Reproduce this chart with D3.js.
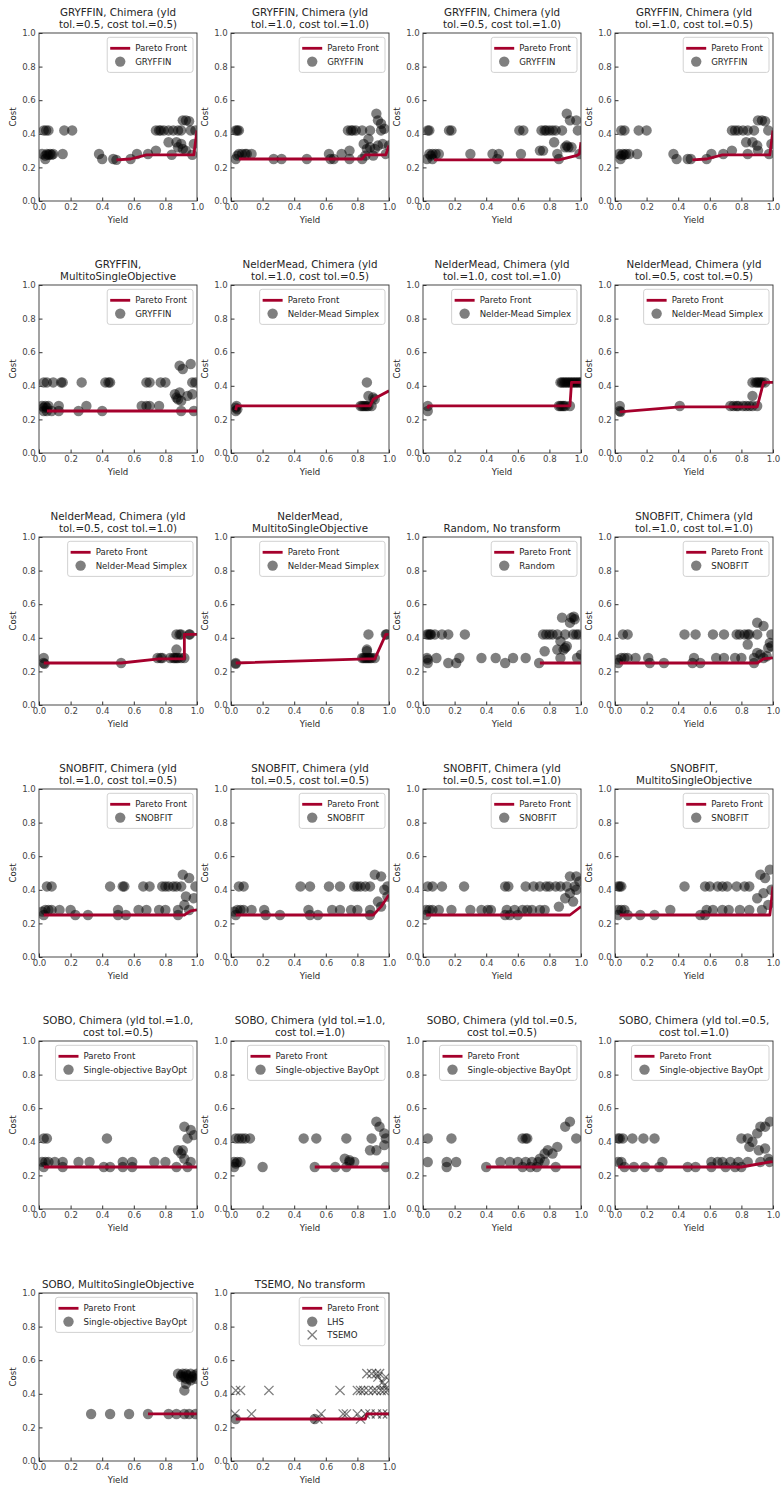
<!DOCTYPE html>
<html>
<head>
<meta charset="utf-8">
<script src="https://cdn.jsdelivr.net/npm/d3@7"></script>
<style>
  body { margin: 0; background: #fff; }
  svg { display: block; }
  text { font-family: "DejaVu Sans", sans-serif; }
</style>
</head>
<body>
<svg id="fig" width="781" height="1488"></svg>
<script>
// ---------- axis ticks ----------
const tickValues = [0, 0.2, 0.4, 0.6, 0.8, 1.0];
const tickLabels = ["0.0", "0.2", "0.4", "0.6", "0.8", "1.0"];

// ---------- panel titles (two lines where wrapped) ----------
const titles = [
  ["GRYFFIN, Chimera (yld", "tol.=0.5, cost tol.=0.5)"],
  ["GRYFFIN, Chimera (yld", "tol.=1.0, cost tol.=1.0)"],
  ["GRYFFIN, Chimera (yld", "tol.=0.5, cost tol.=1.0)"],
  ["GRYFFIN, Chimera (yld", "tol.=1.0, cost tol.=0.5)"],
  ["GRYFFIN,", "MultitoSingleObjective"],
  ["NelderMead, Chimera (yld", "tol.=1.0, cost tol.=0.5)"],
  ["NelderMead, Chimera (yld", "tol.=1.0, cost tol.=1.0)"],
  ["NelderMead, Chimera (yld", "tol.=0.5, cost tol.=0.5)"],
  ["NelderMead, Chimera (yld", "tol.=0.5, cost tol.=1.0)"],
  ["NelderMead,", "MultitoSingleObjective"],
  ["Random, No transform"],
  ["SNOBFIT, Chimera (yld", "tol.=1.0, cost tol.=1.0)"],
  ["SNOBFIT, Chimera (yld", "tol.=1.0, cost tol.=0.5)"],
  ["SNOBFIT, Chimera (yld", "tol.=0.5, cost tol.=0.5)"],
  ["SNOBFIT, Chimera (yld", "tol.=0.5, cost tol.=1.0)"],
  ["SNOBFIT,", "MultitoSingleObjective"],
  ["SOBO, Chimera (yld tol.=1.0,", "cost tol.=0.5)"],
  ["SOBO, Chimera (yld tol.=1.0,", "cost tol.=1.0)"],
  ["SOBO, Chimera (yld tol.=0.5,", "cost tol.=0.5)"],
  ["SOBO, Chimera (yld tol.=0.5,", "cost tol.=1.0)"],
  ["SOBO, MultitoSingleObjective"],
  ["TSEMO, No transform"]
];

// ---------- scatter legend labels ----------
const seriesLabels = [
  "GRYFFIN", "GRYFFIN", "GRYFFIN", "GRYFFIN", "GRYFFIN",
  "Nelder-Mead Simplex", "Nelder-Mead Simplex", "Nelder-Mead Simplex", "Nelder-Mead Simplex", "Nelder-Mead Simplex",
  "Random",
  "SNOBFIT", "SNOBFIT", "SNOBFIT", "SNOBFIT", "SNOBFIT",
  "Single-objective BayOpt", "Single-objective BayOpt", "Single-objective BayOpt", "Single-objective BayOpt", "Single-objective BayOpt",
  "LHS"
];

// ---------- experiments: [yield, cost] ----------
const gryffinY05C05 = [
  [0.03,0.42],[0.045,0.42],[0.06,0.42],[0.16,0.42],[0.21,0.42],
  [0.74,0.42],[0.76,0.42],[0.77,0.42],[0.79,0.42],[0.82,0.42],[0.85,0.42],[0.88,0.42],[0.9,0.42],[0.96,0.42],[0.99,0.42],
  [0.91,0.48],[0.93,0.48],[0.95,0.475],
  [0.82,0.35],[0.87,0.35],[0.9,0.34],[0.88,0.32],[0.91,0.31],[0.93,0.3],[0.98,0.34],
  [0.02,0.28],[0.04,0.27],[0.05,0.28],[0.06,0.275],[0.07,0.28],[0.08,0.275],[0.09,0.28],[0.15,0.28],[0.38,0.28],[0.62,0.28],[0.69,0.28],[0.84,0.275],[0.97,0.275],[0.74,0.3],
  [0.04,0.25],[0.4,0.25],[0.47,0.25],[0.49,0.245],[0.58,0.25]
];
const gryffinY10C10 = [
  [0.03,0.42],[0.04,0.42],[0.05,0.42],[0.74,0.42],[0.76,0.42],[0.77,0.42],[0.79,0.42],[0.83,0.42],[0.88,0.42],[0.95,0.42],
  [0.92,0.52],[0.93,0.48],[0.95,0.46],[0.97,0.43],
  [0.87,0.37],[0.84,0.34],[0.86,0.31],[0.88,0.32],[0.91,0.31],[0.93,0.33],[0.96,0.34],[1.0,0.33],
  [0.04,0.27],[0.05,0.28],[0.07,0.28],[0.09,0.28],[0.1,0.28],[0.13,0.28],[0.62,0.28],[0.7,0.28],[0.75,0.3],[0.98,0.28],
  [0.03,0.25],[0.27,0.25],[0.32,0.25],[0.48,0.25],[0.63,0.25],[0.65,0.25],[0.75,0.25],[0.83,0.25],[0.85,0.27],[0.9,0.27]
];
const gryffinY05C10 = [
  [0.03,0.42],[0.04,0.42],[0.165,0.42],[0.18,0.42],[0.61,0.42],[0.635,0.42],[0.75,0.42],[0.77,0.42],[0.78,0.42],[0.8,0.42],[0.82,0.42],[0.84,0.42],[0.88,0.42],[0.98,0.42],
  [0.91,0.52],[0.93,0.48],[0.97,0.48],
  [0.83,0.35],[0.9,0.32],[0.91,0.33],[0.92,0.32],[0.94,0.32],[0.74,0.3],[0.76,0.3],
  [0.04,0.28],[0.05,0.27],[0.06,0.28],[0.08,0.28],[0.1,0.28],[0.3,0.28],[0.44,0.28],[0.48,0.28],[0.62,0.28],[0.85,0.28],[0.99,0.28],
  [0.025,0.25],[0.06,0.25],[0.47,0.25],[0.86,0.25]
];
const gryffinY10C05 = [
  [0.04,0.42],[0.06,0.42],[0.15,0.42],[0.2,0.42],
  [0.74,0.42],[0.76,0.42],[0.78,0.42],[0.81,0.42],[0.84,0.42],[0.88,0.42],[0.97,0.42],
  [0.905,0.48],[0.93,0.48],[0.95,0.475],
  [0.83,0.35],[0.87,0.35],[0.9,0.33],[0.905,0.3],[0.99,0.34],
  [0.025,0.28],[0.04,0.27],[0.05,0.28],[0.06,0.275],[0.07,0.28],[0.09,0.28],[0.14,0.28],[0.37,0.28],[0.61,0.28],[0.685,0.28],[0.84,0.28],[0.975,0.28],[0.74,0.3],
  [0.035,0.25],[0.39,0.25],[0.46,0.25],[0.48,0.25],[0.58,0.25]
];
const gryffinMtso = [
  [0.03,0.42],[0.05,0.42],[0.09,0.42],[0.14,0.42],[0.15,0.42],[0.27,0.42],[0.42,0.42],[0.44,0.42],[0.45,0.42],[0.68,0.42],[0.7,0.42],[0.77,0.42],[0.8,0.42],[0.97,0.42],[0.99,0.42],
  [0.89,0.52],[0.91,0.5],[0.96,0.53],
  [0.86,0.35],[0.87,0.33],[0.88,0.32],[0.89,0.36],[0.9,0.31],[0.94,0.34],[0.97,0.35],
  [0.02,0.28],[0.03,0.27],[0.04,0.28],[0.05,0.27],[0.06,0.28],[0.125,0.28],[0.3,0.28],[0.65,0.28],[0.68,0.28],[0.7,0.28],[0.76,0.28],
  [0.03,0.25],[0.05,0.25],[0.08,0.25],[0.125,0.25],[0.25,0.25],[0.4,0.25],[0.9,0.25],[0.98,0.25]
];
const nelderY10C05 = [
  [0.03,0.25],[0.03,0.27],[0.035,0.28],[0.04,0.26],
  [0.82,0.28],[0.83,0.28],[0.84,0.28],[0.85,0.28],[0.86,0.28],[0.87,0.28],
  [0.86,0.42],[0.87,0.34],[0.89,0.28],[0.9,0.33],[0.91,0.32]
];
const nelderY10C10 = [
  [0.03,0.28],[0.03,0.25],
  [0.86,0.28],[0.87,0.28],[0.88,0.28],[0.89,0.28],[0.9,0.28],[0.93,0.28],
  [0.87,0.42],[0.88,0.42],[0.89,0.42],[0.9,0.42],[0.91,0.42],[0.92,0.42],[0.93,0.42],[0.94,0.42],[0.95,0.42],[0.96,0.42],[0.97,0.42],[0.98,0.42],[0.99,0.42],[1.0,0.42]
];
const nelderY05C05 = [
  [0.03,0.28],[0.03,0.25],[0.035,0.245],[0.41,0.28],
  [0.73,0.28],[0.75,0.28],[0.77,0.28],[0.78,0.28],[0.81,0.28],[0.83,0.28],[0.85,0.28],[0.87,0.28],[0.9,0.28],
  [0.87,0.42],[0.87,0.34],[0.89,0.42],[0.9,0.42],[0.91,0.42],[0.92,0.42],[0.93,0.42],[0.95,0.42]
];
const nelderY05C10 = [
  [0.03,0.28],[0.03,0.25],[0.035,0.245],[0.52,0.25],
  [0.75,0.28],[0.77,0.28],[0.78,0.28],[0.83,0.28],[0.85,0.28],[0.86,0.28],[0.87,0.28],[0.88,0.28],[0.9,0.28],[0.92,0.28],
  [0.87,0.33],[0.87,0.42],[0.89,0.42],[0.9,0.42],[0.95,0.42],[0.955,0.42]
];
const nelderMtso = [
  [0.03,0.25],[0.03,0.245],
  [0.83,0.28],[0.84,0.28],[0.85,0.28],[0.86,0.28],[0.87,0.28],[0.88,0.28],[0.89,0.28],[0.91,0.28],
  [0.86,0.33],[0.86,0.32],[0.87,0.42],[0.98,0.42],[0.985,0.42]
];
const randomSamples = [
  [0.025,0.42],[0.035,0.42],[0.045,0.42],[0.05,0.42],[0.075,0.42],[0.12,0.42],[0.16,0.42],[0.265,0.42],
  [0.76,0.42],[0.78,0.42],[0.8,0.42],[0.82,0.42],[0.85,0.42],[0.9,0.42],[0.95,0.42],[0.97,0.42],[0.985,0.42],
  [0.88,0.52],[0.94,0.52],[0.955,0.525],[0.96,0.51],[0.93,0.49],
  [0.87,0.38],[0.9,0.34],[0.91,0.35],[0.85,0.33],[0.89,0.33],[0.77,0.32],
  [0.025,0.28],[0.03,0.27],[0.085,0.28],[0.23,0.28],[0.37,0.28],[0.46,0.28],[0.57,0.28],[0.65,0.28],[0.87,0.28],[0.975,0.28],[1.0,0.3],
  [0.03,0.25],[0.16,0.25],[0.21,0.25],[0.52,0.25],[0.735,0.25]
];
const snobfitY10C10 = [
  [0.05,0.42],[0.08,0.42],[0.44,0.42],[0.51,0.42],[0.62,0.42],[0.69,0.42],[0.77,0.42],[0.79,0.42],[0.82,0.42],[0.84,0.42],[0.85,0.42],[0.9,0.42],[0.99,0.42],
  [0.9,0.49],[0.94,0.47],
  [0.84,0.36],[0.9,0.31],[0.98,0.37],[0.99,0.35],[0.97,0.34],
  [0.02,0.27],[0.04,0.28],[0.06,0.28],[0.08,0.28],[0.13,0.28],[0.21,0.28],[0.5,0.28],[0.64,0.28],[0.69,0.28],[0.76,0.28],[0.8,0.28],[0.88,0.28],[0.94,0.28],[0.96,0.29],
  [0.02,0.25],[0.22,0.25],[0.31,0.25],[0.49,0.25],[0.54,0.25],[0.88,0.25],[0.92,0.3]
];
const snobfitY10C05 = [
  [0.05,0.42],[0.08,0.42],[0.45,0.42],[0.53,0.42],[0.54,0.42],[0.66,0.42],[0.7,0.42],[0.78,0.42],[0.8,0.42],[0.82,0.42],[0.85,0.42],[0.87,0.42],[0.9,0.42],[0.99,0.42],
  [0.91,0.49],[0.95,0.47],
  [0.93,0.36],[0.92,0.31],[0.98,0.35],
  [0.02,0.27],[0.04,0.28],[0.06,0.28],[0.08,0.28],[0.13,0.28],[0.2,0.28],[0.5,0.28],[0.63,0.28],[0.68,0.28],[0.76,0.28],[0.8,0.28],[0.88,0.28],[0.95,0.28],
  [0.03,0.25],[0.23,0.25],[0.31,0.25],[0.5,0.25],[0.55,0.25],[0.88,0.25]
];
const snobfitY05C05 = [
  [0.05,0.42],[0.08,0.42],[0.44,0.42],[0.5,0.42],[0.62,0.42],[0.69,0.42],[0.78,0.42],[0.8,0.42],[0.82,0.42],[0.85,0.42],[0.88,0.42],[0.99,0.42],
  [0.91,0.49],[0.95,0.48],[0.97,0.4],
  [0.93,0.33],[0.95,0.3],[0.99,0.36],
  [0.02,0.27],[0.04,0.28],[0.06,0.28],[0.08,0.28],[0.13,0.28],[0.21,0.28],[0.49,0.28],[0.64,0.28],[0.69,0.28],[0.76,0.28],[0.8,0.28],[0.88,0.28],
  [0.03,0.25],[0.22,0.25],[0.31,0.25],[0.5,0.25],[0.55,0.25],[0.88,0.25]
];
const snobfitY05C10 = [
  [0.03,0.42],[0.06,0.42],[0.12,0.42],[0.26,0.42],[0.52,0.42],[0.54,0.42],[0.65,0.42],[0.7,0.42],[0.74,0.42],[0.78,0.42],[0.8,0.42],[0.84,0.42],[0.87,0.42],[0.91,0.42],[0.96,0.42],
  [0.93,0.48],[0.97,0.48],
  [0.86,0.3],[0.9,0.35],[0.93,0.38],[0.95,0.33],[0.97,0.4],[0.99,0.45],
  [0.02,0.28],[0.04,0.28],[0.06,0.28],[0.1,0.28],[0.18,0.28],[0.3,0.28],[0.37,0.28],[0.41,0.28],[0.43,0.28],[0.53,0.28],[0.58,0.28],[0.63,0.28],[0.66,0.28],[0.69,0.28],[0.74,0.28],[0.77,0.28],
  [0.02,0.25],[0.52,0.25],[0.55,0.25],[0.6,0.25]
];
const snobfitMtso = [
  [0.02,0.42],[0.03,0.42],[0.04,0.42],[0.44,0.42],[0.57,0.42],[0.6,0.42],[0.65,0.42],[0.68,0.42],[0.71,0.42],[0.77,0.42],[0.82,0.42],[0.85,0.42],
  [0.98,0.52],[0.92,0.49],[0.95,0.47],[0.94,0.38],[0.9,0.35],[0.97,0.31],[0.99,0.4],
  [0.02,0.28],[0.04,0.28],[0.06,0.28],[0.35,0.28],[0.58,0.28],[0.62,0.28],[0.68,0.28],[0.72,0.28],[0.79,0.28],[0.85,0.28],[0.93,0.28],
  [0.02,0.25],[0.08,0.25],[0.16,0.25],[0.25,0.25],[0.54,0.25],[0.57,0.25]
];
const soboY10C05 = [
  [0.03,0.42],[0.05,0.42],[0.43,0.42],[0.94,0.42],
  [0.92,0.49],[0.96,0.47],[0.98,0.44],
  [0.88,0.35],[0.91,0.35],[0.9,0.33],[0.92,0.3],
  [0.02,0.28],[0.04,0.28],[0.06,0.28],[0.1,0.28],[0.15,0.28],[0.25,0.28],[0.32,0.28],[0.53,0.28],[0.59,0.28],[0.73,0.28],[0.8,0.28],[0.96,0.28],
  [0.03,0.25],[0.15,0.25],[0.41,0.25],[0.45,0.25],[0.53,0.25],[0.59,0.25],[0.87,0.25],[0.94,0.25]
];
const soboY10C10 = [
  [0.03,0.42],[0.05,0.42],[0.07,0.42],[0.09,0.42],[0.12,0.42],[0.46,0.42],[0.54,0.42],[0.73,0.42],[0.89,0.42],[0.98,0.42],
  [0.92,0.52],[0.94,0.49],[0.97,0.45],[0.97,0.38],[0.88,0.35],[0.92,0.35],
  [0.72,0.3],[0.75,0.29],
  [0.02,0.28],[0.03,0.27],[0.04,0.28],[0.06,0.28],[0.75,0.28],[0.78,0.28],
  [0.02,0.25],[0.2,0.25],[0.53,0.25],[0.66,0.25],[0.73,0.25],[0.98,0.25]
];
const soboY05C05 = [
  [0.03,0.42],[0.18,0.42],[0.63,0.42],[0.65,0.42],[0.66,0.42],[0.97,0.42],
  [0.93,0.52],[0.9,0.49],
  [0.79,0.35],[0.77,0.33],[0.82,0.33],[0.74,0.3],[0.85,0.37],
  [0.03,0.28],[0.15,0.28],[0.21,0.28],[0.49,0.28],[0.55,0.28],[0.6,0.28],[0.65,0.28],[0.69,0.28],[0.73,0.28],[0.77,0.28],
  [0.15,0.25],[0.4,0.25],[0.63,0.25],[0.68,0.25],[0.72,0.25],[0.84,0.25]
];
const soboY05C10 = [
  [0.02,0.42],[0.03,0.42],[0.05,0.42],[0.11,0.42],[0.18,0.42],[0.25,0.42],[0.8,0.42],[0.84,0.42],
  [0.98,0.52],[0.92,0.49],[0.95,0.49],[0.9,0.45],[0.87,0.4],[0.85,0.37],[0.91,0.35],[0.95,0.36],[0.97,0.3],
  [0.02,0.28],[0.04,0.28],[0.3,0.28],[0.61,0.28],[0.65,0.28],[0.68,0.28],[0.73,0.28],[0.78,0.28],[0.84,0.28],[0.92,0.28],[0.98,0.28],
  [0.06,0.25],[0.12,0.25],[0.19,0.25],[0.28,0.25],[0.46,0.25],[0.51,0.25],[0.61,0.25],[0.7,0.25],[0.76,0.25],[0.8,0.25]
];
const soboMtso = [
  [0.33,0.28],[0.45,0.28],[0.57,0.28],[0.69,0.28],[0.82,0.28],[0.87,0.28],[0.92,0.28],[0.95,0.28],[0.99,0.28],
  [0.88,0.52],[0.9,0.51],[0.91,0.52],[0.92,0.5],[0.93,0.52],[0.94,0.51],[0.95,0.49],[0.96,0.52],[0.97,0.5],[0.98,0.51],[0.99,0.49],[1.0,0.52],
  [0.9,0.5],[0.93,0.49],[0.96,0.48],
  [0.92,0.42],[0.93,0.46]
];
const lhsSamples = [[0.03,0.25],[0.53,0.25]];
const tsemoSamples = [
  [0.03,0.42],[0.06,0.42],[0.24,0.42],[0.69,0.42],[0.8,0.42],[0.82,0.42],[0.84,0.42],[0.87,0.42],[0.9,0.42],[0.92,0.42],[0.95,0.42],[0.97,0.42],[0.99,0.42],
  [0.86,0.52],[0.89,0.52],[0.92,0.52],[0.94,0.52],[0.93,0.5],[0.98,0.5],[0.96,0.47],[0.97,0.45],
  [0.025,0.28],[0.13,0.28],[0.57,0.28],[0.71,0.28],[0.73,0.28],[0.8,0.28],[0.85,0.28],[0.88,0.28],[0.92,0.28],[0.96,0.28],[0.99,0.28],
  [0.55,0.25],[0.82,0.25]
];

// ---------- Pareto fronts: [yield, cost] ----------
const paretoGryffinY05C05 = [[0.49,0.245],[0.58,0.25],[0.68,0.275],[0.98,0.275],[1.0,0.42]];
const paretoGryffinY10C10 = [[0.05,0.25],[0.83,0.25],[0.85,0.275],[0.98,0.275],[1.0,0.33]];
const paretoGryffinY05C10 = [[0.07,0.245],[0.86,0.245],[0.97,0.27],[0.99,0.28],[1.0,0.35]];
const paretoGryffinY10C05 = [[0.49,0.245],[0.58,0.25],[0.68,0.275],[0.98,0.275],[1.0,0.42]];
const paretoGryffinMtso = [[0.05,0.25],[1.0,0.25]];
const paretoNelderY10C05 = [[0.03,0.255],[0.035,0.28],[0.88,0.28],[0.9,0.32],[1.0,0.37]];
const paretoNelderY10C10 = [[0.03,0.265],[0.035,0.28],[0.93,0.28],[0.94,0.42],[1.0,0.42]];
const paretoNelderY05C05 = [[0.03,0.245],[0.41,0.275],[0.9,0.275],[0.94,0.42],[1.0,0.42]];
const paretoNelderY05C10 = [[0.03,0.25],[0.52,0.25],[0.76,0.275],[0.92,0.275],[0.92,0.42],[1.0,0.42]];
const paretoNelderMtso = [[0.03,0.25],[0.86,0.275],[0.91,0.275],[0.98,0.42],[1.0,0.42]];
const paretoRandom = [[0.74,0.25],[1.0,0.25]];
const paretoSnobfitY10C10 = [[0.03,0.25],[0.9,0.25],[0.94,0.275],[1.0,0.28]];
const paretoSnobfitY10C05 = [[0.03,0.25],[0.92,0.25],[0.96,0.275],[1.0,0.28]];
const paretoSnobfitY05C05 = [[0.03,0.25],[0.9,0.25],[0.95,0.3],[1.0,0.37]];
const paretoSnobfitY05C10 = [[0.02,0.25],[0.93,0.25],[1.0,0.3]];
const paretoSnobfitMtso = [[0.03,0.25],[0.98,0.25],[1.0,0.42]];
const paretoSoboY10C05 = [[0.03,0.25],[1.0,0.25]];
const paretoSoboY10C10 = [[0.53,0.25],[1.0,0.25]];
const paretoSoboY05C05 = [[0.4,0.25],[1.0,0.25]];
const paretoSoboY05C10 = [[0.02,0.25],[0.8,0.25],[0.98,0.28],[1.0,0.28]];
const paretoSoboMtso = [[0.69,0.28],[1.0,0.28]];
const paretoTsemo = [[0.03,0.25],[0.85,0.25],[0.86,0.28],[1.0,0.28]];

const scatterSets = [
  gryffinY05C05, gryffinY10C10, gryffinY05C10, gryffinY10C05, gryffinMtso,
  nelderY10C05, nelderY10C10, nelderY05C05, nelderY05C10, nelderMtso,
  randomSamples,
  snobfitY10C10, snobfitY10C05, snobfitY05C05, snobfitY05C10, snobfitMtso,
  soboY10C05, soboY10C10, soboY05C05, soboY05C10, soboMtso,
  lhsSamples
];
const paretoSets = [
  paretoGryffinY05C05, paretoGryffinY10C10, paretoGryffinY05C10, paretoGryffinY10C05, paretoGryffinMtso,
  paretoNelderY10C05, paretoNelderY10C10, paretoNelderY05C05, paretoNelderY05C10, paretoNelderMtso,
  paretoRandom,
  paretoSnobfitY10C10, paretoSnobfitY10C05, paretoSnobfitY05C05, paretoSnobfitY05C10, paretoSnobfitMtso,
  paretoSoboY10C05, paretoSoboY10C10, paretoSoboY05C05, paretoSoboY05C10, paretoSoboMtso,
  paretoTsemo
];

// ---------- layout ----------
const NCOL = 4;
const PW = 158, PH = 168;
const colLeft = c => 39 + 192 * c;
const rowTop = r => 33 + 252 * r;
const FRONT = "#a5002c";
const TICK_FS = 8.6, TITLE_FS = 10.3, LEG_FS = 8.6;

const svg = d3.select("#fig");
const x = d3.scaleLinear().domain([0, 1]).range([0, PW]);
const y = d3.scaleLinear().domain([0, 1]).range([PH, 0]);
const line = d3.line().x(d => x(d[0])).y(d => y(d[1]));

function crossPath(s) {
  return `M${-s},${-s}L${s},${s}M${-s},${s}L${s},${-s}`;
}

titles.forEach((title, i) => {
  const c = i % NCOL, r = Math.floor(i / NCOL);
  const g = svg.append("g").attr("transform", `translate(${colLeft(c)},${rowTop(r)})`);

  // title
  const tt = g.append("text").attr("text-anchor", "middle").attr("font-size", TITLE_FS).attr("fill", "#262626");
  title.forEach((ln, k) => {
    tt.append("tspan").attr("x", PW / 2).attr("y", -5.5 - (title.length - 1 - k) * 12).text(ln);
  });

  // clip region for marks
  const cid = "clip" + i;
  g.append("clipPath").attr("id", cid).append("rect").attr("width", PW).attr("height", PH);
  const plot = g.append("g").attr("clip-path", `url(#${cid})`);

  // scatter points
  plot.selectAll("circle").data(scatterSets[i]).join("circle")
    .attr("cx", d => x(d[0])).attr("cy", d => y(d[1])).attr("r", 5.2)
    .attr("fill", "#000").attr("fill-opacity", 0.5);

  if (i === titles.length - 1) {
    plot.selectAll("path.cross").data(tsemoSamples).join("path").attr("class", "cross")
      .attr("transform", d => `translate(${x(d[0])},${y(d[1])})`)
      .attr("d", crossPath(4.6)).attr("stroke", "#000").attr("stroke-opacity", 0.5)
      .attr("stroke-width", 1.3).attr("fill", "none");
  }

  // Pareto front
  plot.append("path").datum(paretoSets[i]).attr("d", line)
    .attr("fill", "none").attr("stroke", FRONT).attr("stroke-width", 2.8)
    .attr("stroke-linejoin", "round");

  // axes with inward ticks
  const ax = g.append("g").attr("transform", `translate(0,${PH})`)
    .call(d3.axisBottom(x).tickValues(tickValues).tickFormat((d, k) => tickLabels[k])
      .tickSizeInner(-3.5).tickSizeOuter(0).tickPadding(3.2));
  const ay = g.append("g")
    .call(d3.axisLeft(y).tickValues(tickValues).tickFormat((d, k) => tickLabels[k])
      .tickSizeInner(-3.5).tickSizeOuter(0).tickPadding(3.2));
  [ax, ay].forEach(a => {
    a.select(".domain").remove();
    a.selectAll("line").attr("stroke", "#333");
    a.selectAll("text").attr("font-size", TICK_FS).attr("fill", "#444")
      .attr("font-family", "DejaVu Sans, sans-serif");
  });

  // frame
  g.append("rect").attr("width", PW).attr("height", PH)
    .attr("fill", "none").attr("stroke", "#333").attr("stroke-width", 0.9);

  // axis titles
  g.append("text").attr("x", PW / 2).attr("y", PH + 22).attr("text-anchor", "middle")
    .attr("font-size", TICK_FS).attr("fill", "#262626").text("Yield");
  g.append("text").attr("transform", `translate(${-23.5},${PH / 2}) rotate(-90)`)
    .attr("text-anchor", "middle").attr("font-size", TICK_FS).attr("fill", "#262626").text("Cost");

  // legend
  const entries = [{ kind: "line", label: "Pareto Front" }, { kind: "dot", label: seriesLabels[i] }];
  if (i === titles.length - 1) entries.push({ kind: "cross", label: "TSEMO" });
  const leg = g.append("g");
  const box = leg.append("rect");
  const rowH = 13.3;
  const texts = [];
  entries.forEach((e, k) => {
    const cy = 11 + k * rowH;
    const row = leg.append("g").attr("transform", `translate(0,${cy})`);
    if (e.kind === "line") {
      row.append("line").attr("x1", 3).attr("x2", 23).attr("stroke", FRONT).attr("stroke-width", 2.8);
    } else if (e.kind === "dot") {
      row.append("circle").attr("cx", 13).attr("r", 5.2).attr("fill", "#000").attr("fill-opacity", 0.5);
    } else {
      row.append("path").attr("transform", "translate(13,0)").attr("d", crossPath(4.6))
        .attr("stroke", "#000").attr("stroke-opacity", 0.5).attr("stroke-width", 1.3);
    }
    texts.push(row.append("text").attr("x", 28).attr("dy", "0.35em")
      .attr("font-size", LEG_FS).attr("fill", "#262626").text(e.label));
  });
  const tw = d3.max(texts, t => t.node().getComputedTextLength());
  const bw = 28 + tw + 6, bh = 8 + entries.length * rowH + 0.5;
  box.attr("width", bw).attr("height", bh).attr("rx", 2.5)
    .attr("fill", "#fff").attr("fill-opacity", 0.8).attr("stroke", "#cccccc").attr("stroke-width", 0.9);
  leg.attr("transform", `translate(${PW - 4 - bw},${4.3})`);
});
</script>
</body>
</html>
